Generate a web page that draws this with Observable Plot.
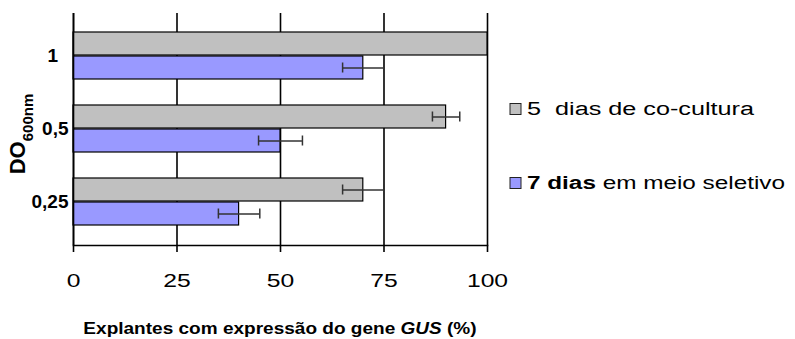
<!DOCTYPE html>
<html><head><meta charset="utf-8">
<script src="https://cdn.jsdelivr.net/npm/d3@7"></script>
<script src="https://cdn.jsdelivr.net/npm/@observablehq/plot@0.6"></script>
<style>body{margin:0;background:#fff} svg{display:block}</style>
</head><body><div id="chart"></div>
<script>
const categories = ["1", "0,5", "0,25"];
const seriesNames = ["5  dias de co-cultura", "7 dias em meio seletivo"];
const seriesBoldPrefix = ["", "7 dias"];
const seriesColors = ["#C0C0C0", "#9999FF"];
const coCultura = [100, 90, 70];
const coCulturaErr = [0, 3.3, 5];
const seletivo = [70, 50, 40];
const seletivoErr = [5, 5.3, 5];
const xTicks = [0, 25, 50, 75, 100];

const gray = categories.map((c, i) => ({cat: c, value: coCultura[i], err: coCulturaErr[i]}));
const blue = categories.map((c, i) => ({cat: c, value: seletivo[i], err: seletivoErr[i]}));
const grayE = gray.filter(d => d.err > 0);
const blueE = blue.filter(d => d.err > 0);
const lo = d => d.value - d.err, hi = d => d.value + d.err;
const eStyle = {stroke: "#333", strokeWidth: 1.5};

const plot = Plot.plot({
  width: 795, height: 339,
  marginLeft: 73, marginRight: 308, marginTop: 13, marginBottom: 94,
  style: {fontFamily: "'Liberation Sans', Arial, sans-serif", background: "#fff", color: "#000"},
  x: {domain: [0, 100]},
  y: {domain: categories, paddingInner: 0.35, paddingOuter: 0.25},
  marks: [
    Plot.gridX(xTicks, {stroke: "#000", strokeOpacity: 1, strokeWidth: 1.6}),
    Plot.barX(gray, {x: "value", y: "cat", fill: seriesColors[0], stroke: "#000", strokeWidth: 1.2, insetBottom: 24}),
    Plot.barX(blue, {x: "value", y: "cat", fill: seriesColors[1], stroke: "#000", strokeWidth: 1.2, insetTop: 24}),
    Plot.ruleY(grayE, {y: "cat", x1: lo, x2: hi, dy: -12, ...eStyle}),
    Plot.ruleY(blueE, {y: "cat", x1: lo, x2: hi, dy: 12, ...eStyle}),
    Plot.tickX(grayE, {x: lo, y: "cat", insetTop: 6.5, insetBottom: 30.5, ...eStyle}),
    Plot.tickX(grayE, {x: hi, y: "cat", insetTop: 6.5, insetBottom: 30.5, ...eStyle}),
    Plot.tickX(blueE, {x: lo, y: "cat", insetTop: 30.5, insetBottom: 6.5, ...eStyle}),
    Plot.tickX(blueE, {x: hi, y: "cat", insetTop: 30.5, insetBottom: 6.5, ...eStyle}),
    Plot.ruleX([0], {stroke: "#000", strokeWidth: 1.6}),
    Plot.frame({anchor: "bottom", stroke: "#000", strokeWidth: 1.6}),
    Plot.axisX({ticks: xTicks, tickSize: 7, tickPadding: 21, fontSize: 19, label: null, stroke: "#000", strokeWidth: 1.6}),
    Plot.axisY({tickSize: 0, tickPadding: 5, fontSize: 19, fontWeight: "bold", label: null,
      tickFormat: d => d === "1" ? d + "\u00a0\u00a0" : d})
  ]
});
document.getElementById("chart").appendChild(plot);

const svg = d3.select(plot);
// widen x tick labels horizontally like the reference
svg.selectAll("g[aria-label='x-axis tick label'] text").each(function() {
  const tr = this.getAttribute("transform") || "";
  this.setAttribute("transform", tr + " scale(1.3,1)");
});

const F = "'Liberation Sans', Arial, sans-serif";
// x title
const t = svg.append("text").attr("transform", "translate(280,334) scale(1.12,1)").attr("text-anchor", "middle")
  .attr("font-family", F).attr("font-size", 17).attr("font-weight", "bold").attr("fill", "#000");
t.append("tspan").text("Explantes com expressão do gene ");
t.append("tspan").attr("font-style", "italic").text("GUS");
t.append("tspan").text(" (%)");
// y title
const yt = svg.append("text").attr("transform", "translate(25,134) rotate(-90)").attr("text-anchor", "middle")
  .attr("font-family", F).attr("font-weight", "bold").attr("fill", "#000");
yt.append("tspan").attr("font-size", 22).text("DO");
yt.append("tspan").attr("font-size", 15).attr("dy", 8).text("600nm");
// legend
const legY = [109, 183];
const legLen = [227, 258];
seriesNames.forEach((name, i) => {
  svg.append("rect").attr("x", 510).attr("y", legY[i] - 5.5).attr("width", 11).attr("height", 11)
    .attr("fill", seriesColors[i]).attr("stroke", "#222").attr("stroke-width", 1);
  const lt = svg.append("text").attr("x", 527).attr("y", legY[i]).attr("dy", "0.36em")
    .attr("text-anchor", "start").attr("font-family", F).attr("font-size", 18).attr("fill", "#000")
    .attr("textLength", legLen[i]).attr("lengthAdjust", "spacingAndGlyphs")
    .style("white-space", "pre");
  const b = seriesBoldPrefix[i];
  if (b) lt.append("tspan").attr("font-weight", "bold").text(b);
  lt.append("tspan").text(name.slice(b.length));
});
</script>
</body></html>
